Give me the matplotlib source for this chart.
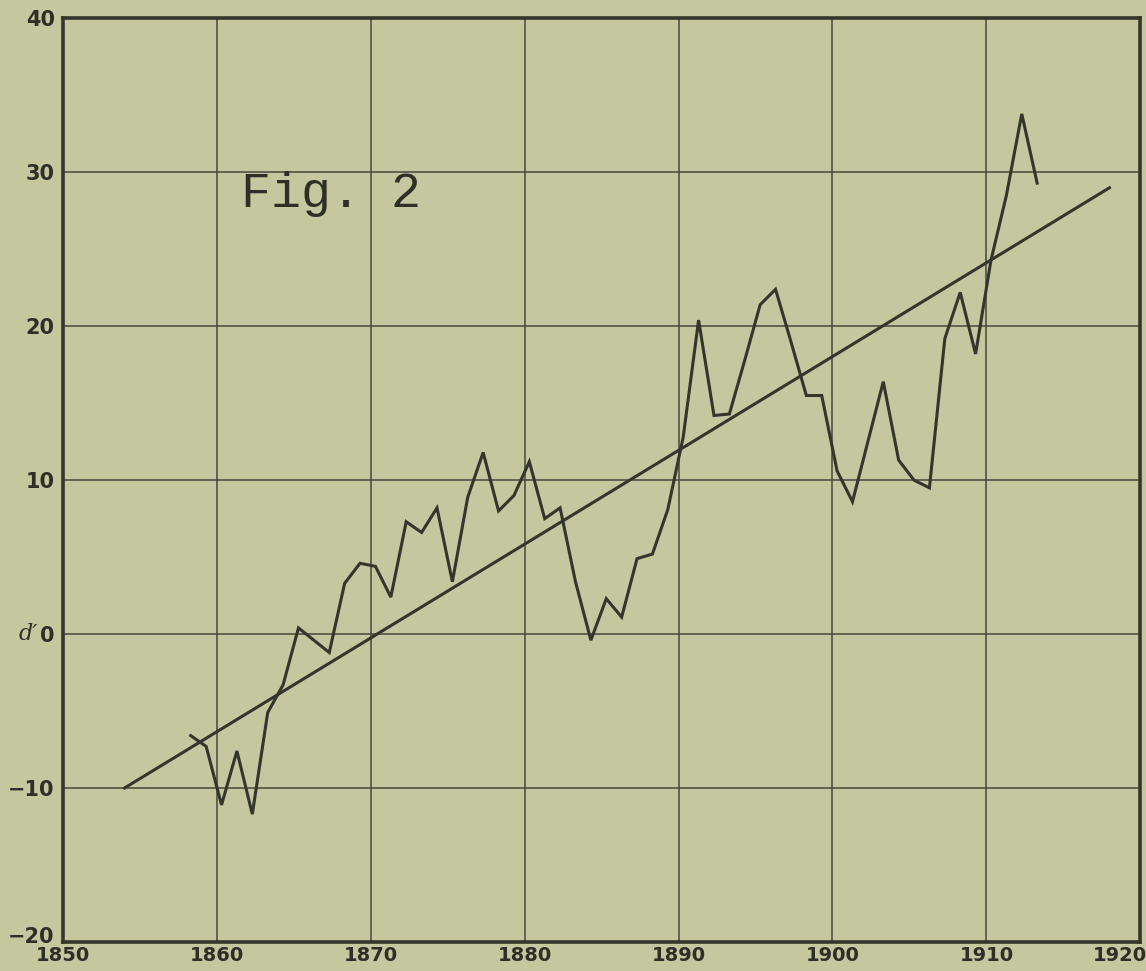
import numpy as np
import matplotlib
matplotlib.use("Agg")
import matplotlib.pyplot as plt
from matplotlib.transforms import ScaledTranslation

# Annual values of d' (plotted at mid-year)
years = list(range(1858, 1914))
d_values = [
    -6.6, -7.3, -11.1, -7.6, -11.7, -5.1, -3.3, 0.4, -0.4, -1.2,   # 1858-1867
    3.3, 4.6, 4.4, 2.4, 7.3, 6.6, 8.2, 3.4, 8.9, 11.8,             # 1868-1877
    8.0, 9.0, 11.2, 7.5, 8.2, 3.4, -0.4, 2.3, 1.1, 4.9,            # 1878-1887
    5.2, 8.1, 12.8, 20.4, 14.2, 14.3, 17.8, 21.4, 22.4, 19.0,      # 1888-1897
    15.5, 15.5, 10.6, 8.6, 12.5, 16.4, 11.3, 10.0, 9.5, 19.2,      # 1898-1907
    22.2, 18.2, 24.3, 28.5, 33.8, 29.3,                            # 1908-1913
]

# Straight trend line
trend_years = [1854, 1918]
trend_values = [-10.0, 29.0]

x_ticks = [1850, 1860, 1870, 1880, 1890, 1900, 1910, 1920]
y_ticks = [-20, -10, 0, 10, 20, 30, 40]

paper = "#c5c89f"
ink = "#34352c"
text_ink = "#2e2f27"

fig = plt.figure(figsize=(11.46, 9.71), dpi=100, facecolor=paper)
ax = fig.add_axes([0.055, 0.030, 0.940, 0.951])
ax.set_facecolor(paper)

ax.set_xlim(1850, 1920)
ax.set_ylim(-20, 40)
ax.set_xticks(x_ticks)
ax.set_yticks(y_ticks)
ax.set_xticklabels([str(v) for v in x_ticks])
ax.set_yticklabels([("\u2212" + str(-v)) if v < 0 else str(v) for v in y_ticks])

ax.grid(True, color="#46473c", linewidth=1.1)
ax.set_axisbelow(True)
for side in ax.spines.values():
    side.set_color(ink)
    side.set_linewidth(2.6)

ax.tick_params(length=0, colors=ink)
ax.tick_params(axis="y", pad=6, labelsize=15)
ax.tick_params(axis="x", pad=3, labelsize=14)
for lab in ax.get_xticklabels() + ax.get_yticklabels():
    lab.set_fontweight("bold")
    lab.set_color(text_ink)

# keep the last year label inside the sheet
last = ax.get_xticklabels()[-1]
last.set_transform(last.get_transform() +
                   ScaledTranslation(-0.2, 0, fig.dpi_scale_trans))

# lift the lowest value label clear of the first year label
lowest = ax.get_yticklabels()[0]
lowest.set_transform(lowest.get_transform() +
                     ScaledTranslation(0, 0.07, fig.dpi_scale_trans))

ax.plot(np.array(years) + 0.3, d_values, color=ink, linewidth=2.2,
        solid_joinstyle="miter")
ax.plot(trend_years, trend_values, color=ink, linewidth=2.2)

ax.text(1867.4, 28.6, "Fig. 2", fontsize=36, family="Liberation Mono",
        color=text_ink, ha="center", va="center")

ax.text(-0.032, 1 / 3, "d\u2032", transform=ax.transAxes, fontsize=16,
        style="italic", color=text_ink, ha="center", va="center",
        family="DejaVu Serif")

fig.savefig("out.png", dpi=100, facecolor=paper)
